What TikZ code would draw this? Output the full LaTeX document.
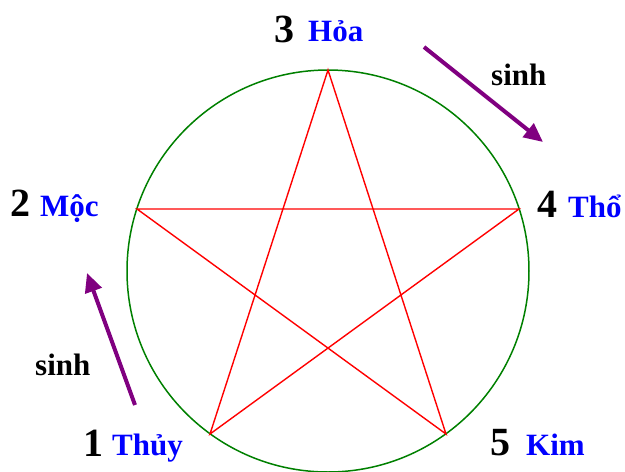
\documentclass[tikz,border=0pt]{standalone}
\usepackage{fontspec}
\setmainfont{Liberation Serif}
\usetikzlibrary{arrows.meta}
\definecolor{circgreen}{RGB}{0,128,0}
\definecolor{starred}{RGB}{255,0,0}
\definecolor{elemblue}{RGB}{0,0,255}
\definecolor{arrowpurple}{RGB}{128,0,128}
\tikzset{
  numlabel/.style={anchor=base west, inner sep=0pt, font=\bfseries\fontsize{40}{40}\selectfont, text=black},
  elemlabel/.style={anchor=base west, inner sep=0pt, font=\bfseries\fontsize{31}{31}\selectfont, text=elemblue},
  sinhlabel/.style={anchor=base west, inner sep=0pt, font=\bfseries\fontsize{31}{31}\selectfont, text=black},
  starline/.style={draw=starred, line width=1.4pt},
  ringline/.style={draw=circgreen, line width=1.5pt},
  sinharrow/.style={draw=arrowpurple, line width=4pt, -{Triangle[length=19pt,width=17pt]}}
}
\begin{document}
\begin{tikzpicture}[x=1pt,y=-1pt]
\useasboundingbox (0,0) rectangle (625,472);
\coordinate (c) at (328,271);
\coordinate (p3) at (328,70);
\coordinate (p2) at (137,209);
\coordinate (p4) at (519,209);
\coordinate (p1) at (210,434);
\coordinate (p5) at (446,434);
\draw[ringline] (c) circle (201);
\draw[starline] (p3) -- (p1) -- (p4) -- (p2) -- (p5) -- cycle;
% labels
\node[numlabel] (n3) at (274,42) {3};
\node[elemlabel] (e3) at (308,41) {Hỏa};
\node[numlabel] (n2) at (10,216) {2};
\node[elemlabel] (e2) at (40,216) {Mộc};
\node[numlabel] (n4) at (537,217) {4};
\node[elemlabel] (e4) at (568,217) {Thổ};
\node[numlabel] (n1) at (83,456) {1};
\node[elemlabel] (e1) at (112,455) {Thủy};
\node[numlabel] (n5) at (490,455) {5};
\node[elemlabel] (e5) at (526,455) {Kim};
\node[sinhlabel] (s1) at (491,85) {sinh};
\node[sinhlabel] (s2) at (35,375) {sinh};
% arrows
\coordinate (a1s) at (424,47);
\coordinate (a1e) at (543,142);
\coordinate (a2s) at (135,405);
\coordinate (a2e) at (87,273);
\draw[sinharrow] (a1s) -- (a1e);
\draw[sinharrow] (a2s) -- (a2e);
\end{tikzpicture}
\end{document}
